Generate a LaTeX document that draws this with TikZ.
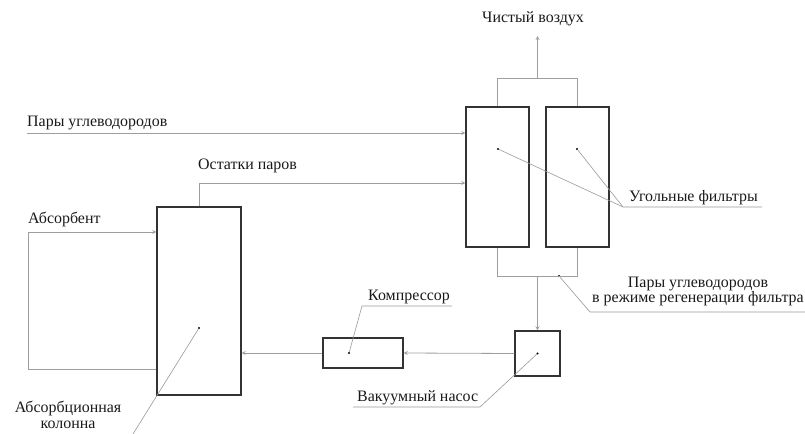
\documentclass[tikz,border=0pt]{standalone}
\usepackage{fontspec}
\setmainfont{Liberation Serif}
\usetikzlibrary{arrows,calc,positioning}

\begin{document}
\begin{tikzpicture}[%
>=stealth,
x=1bp, y=-1bp,
box/.style={draw=black!80, line width=1.3pt, inner sep=0pt},
pipe/.style={draw=black!38, line width=0.8pt},
lead/.style={draw=black!40, line width=0.6pt},
lbl/.style={font=\fontsize{16}{16}\selectfont, inner sep=0pt, text=black!90},
dot/.style={circle, fill=black, inner sep=0pt, minimum size=2.2pt}
]
\useasboundingbox (0,0) rectangle (805,434);

% apparatus
\node[box, minimum width=63bp, minimum height=140bp] (f1) at (497.5,177) {};
\node[box, minimum width=63bp, minimum height=140bp] (f2) at (577.5,177) {};
\node[box, minimum width=84bp, minimum height=188bp] (col) at (199,301) {};
\node[box, minimum width=80bp, minimum height=30bp] (comp) at (363,353) {};
\node[box, minimum width=45bp, minimum height=45bp] (pump) at (537.5,353.5) {};

% leader dots
\node[dot] (d1) at (498,149) {};
\node[dot] (d2) at (577,149) {};
\node[dot] (dc) at (199,328) {};
\node[dot] (dk) at (349,353) {};
\node[dot] (dp) at (537.5,353.5) {};
\node[dot] (dr) at (559,276) {};

% labels
\node[lbl, anchor=base] (air) at (533,23) {Чистый воздух};
\node[lbl, anchor=base west] (vap) at (27,127) {Пары углеводородов};
\node[lbl, anchor=base west] (rest) at (198,170) {Остатки паров};
\node[lbl, anchor=base west] (absb) at (28,224) {Абсорбент};
\node[lbl, anchor=base west] (coal) at (629,202) {Угольные фильтры};
\node[lbl, anchor=base, align=center] (regen) at (698,303)
      {Пары углеводородов\\в режиме регенерации фильтра};
\node[lbl, anchor=base west] (compl) at (368,301) {Компрессор};
\node[lbl, anchor=base west] (pumpl) at (357,401) {Вакуумный насос};
\node[lbl, anchor=base, align=center] (coll) at (68,428)
      {Абсорбционная\\колонна};

\coordinate (top) at (537.5,78);
\coordinate (clean) at (537.5,36);
\coordinate (bot) at (537.5,276);
\coordinate (vin) at (27,133);
\coordinate (rst) at (199,183);
\coordinate (ab1) at (28,369);
\coordinate (ab2) at (28,232);

% flows
\draw[pipe] (f1.north) -- (f1.north |- top) -- (f2.north |- top) -- (f2.north);
\path (top) edge[pipe,->] (clean);
\draw[pipe] (f1.south) -- (f1.south |- bot) -- (f2.south |- bot) -- (f2.south);
\path (bot) edge[pipe,->] (pump.north);
\path (pump.west) edge[pipe,->] (comp.east);
\path (comp.west) edge[pipe,->] (comp.west -| col.east);
\path (vin) edge[pipe,->] (vin -| f1.west);
\draw[pipe,->] (col.north) -- (rst) -- (rst -| f1.west);
\draw[pipe,->] (ab1 -| col.west) -- (ab1) -- (ab2) -- (ab2 -| col.west);

% leaders
\coordinate (uf) at (623,207);
\coordinate (uf') at (762,207);
\draw[lead] (d1) -- (uf) -- (uf');
\draw[lead] (d2) -- (uf);
\coordinate (ur) at (590,312);
\coordinate (ur') at (805,312);
\draw[lead] (dr) -- (ur) -- (ur');
\coordinate (uk) at (362,306);
\coordinate (uk') at (452,306);
\draw[lead] (dk) -- (uk) -- (uk');
\coordinate (up) at (480,407);
\coordinate (up') at (353,407);
\draw[lead] (dp) -- (up) -- (up');
\coordinate (uc) at (133,434);
\draw[lead] (dc) -- (uc);
\end{tikzpicture}
\end{document}
